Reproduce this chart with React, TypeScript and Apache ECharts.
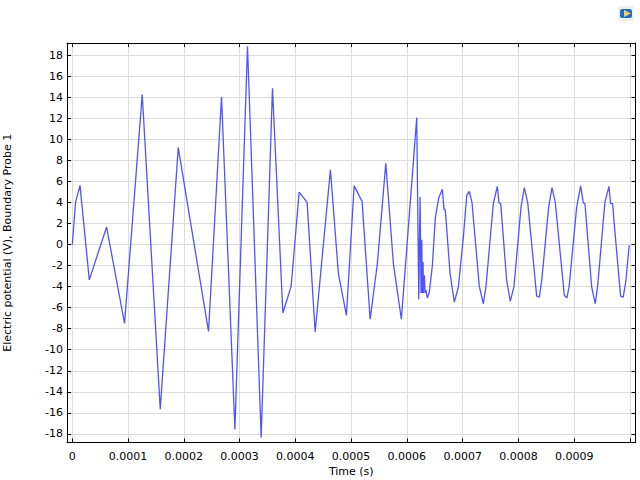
import React, { useEffect, useRef } from "react";
import * as echarts from "echarts";

// Time in units of 1e-4 s
const timeUnits = [
  0, 0.059, 0.138, 0.305, 0.615, 0.937, 1.254, 1.577, 1.9, 2.443, 2.676, 2.916, 3.142, 3.387, 3.59, 3.776,
  3.925, 4.068, 4.211, 4.355, 4.629, 4.772, 4.916, 5.054, 5.197, 5.341, 5.471, 5.622, 5.758, 5.901, 6.177,
  6.213, 6.237, 6.254, 6.267, 6.278, 6.29, 6.296, 6.314, 6.326, 6.34, 6.367, 6.403, 6.457, 6.511, 6.572,
  6.636, 6.667, 6.69, 6.774, 6.851, 6.923, 7.013, 7.074, 7.12, 7.168, 7.299, 7.371, 7.419, 7.55, 7.622,
  7.652, 7.683, 7.79, 7.855, 7.921, 8.047, 8.106, 8.167, 8.328, 8.375, 8.418, 8.543, 8.602, 8.661, 8.823,
  8.871, 8.912, 9.045, 9.116, 9.163, 9.194, 9.314, 9.378, 9.421, 9.552, 9.624, 9.654, 9.69, 9.713, 9.833,
  9.88, 9.928, 9.987,
];
const potential = [
  0, 4.06, 5.65, -3.35, 1.68, -7.5, 14.3, -15.65, 9.24, -8.26, 14.06, -17.6, 18.9, -18.35, 14.9, -6.5,
  -3.94, 5.0, 4.03, -8.3, 7.14, -2.76, -6.73, 5.6, 4.12, -7.1, -1.8, 7.74, -1.8, -7.1, 12.1,
  -5.2, 4.53, -4.6, 0.47, -4.6, -1.66, -4.6, -2.9, -4.6, -4.3, -5.08, -4.5, -2.0, 2.6, 4.47,
  5.27, 3.36, 3.27, -2.73, -5.47, -4.03, 0.72, 4.7, 5.08, 4.0, -3.97, -5.62, -3.97, 3.9, 5.55,
  4.0, 3.9, -3.42, -5.4, -3.97, 3.58, 5.43, 4.0, -4.9, -5.0, -3.42, 3.58, 5.43, 4.06, -4.81,
  -5.07, -3.87, 3.58, 5.59, 4.0, 3.9, -4.03, -5.62, -3.97, 4.06, 5.55, 3.9, 3.9, 2.32, -4.9,
  -5.0, -3.42, -0.05,
];
const xTicks = [0, 0.0001, 0.0002, 0.0003, 0.0004, 0.0005, 0.0006, 0.0007, 0.0008, 0.0009, 0.001];
const xLabelled = [0, 0.0001, 0.0002, 0.0003, 0.0004, 0.0005, 0.0006, 0.0007, 0.0008, 0.0009];
const yTicks = [-18, -16, -14, -12, -10, -8, -6, -4, -2, 0, 2, 4, 6, 8, 10, 12, 14, 16, 18];
const xTitle = "Time (s)";
const yTitle = "Electric potential (V), Boundary Probe 1";

const X_MIN = -0.0000095;
const X_MAX = 0.00101;
const Y_MIN = -18.83;
const Y_MAX = 19.2;
const FONT = "DejaVu Sans";

const line = { show: true, onZero: false, lineStyle: { color: "#000", width: 1 } };

export default function App() {
  const ref = useRef<HTMLDivElement>(null);
  useEffect(() => {
    const chart = echarts.init(ref.current!, undefined, { renderer: "svg", width: 640, height: 480 });
    const xBase = { type: "value", min: X_MIN, max: X_MAX, axisLine: line };
    const yBase = { type: "value", min: Y_MIN, max: Y_MAX, axisLine: line };
    chart.setOption({
      animation: false,
      backgroundColor: "#fff",
      grid: { left: 67, right: 4.5, top: 43, bottom: 37.5, containLabel: false, outerBoundsMode: "none" },
      xAxis: [
        {
          ...xBase,
          position: "bottom",
          name: xTitle,
          nameLocation: "middle",
          nameGap: 21,
          nameTextStyle: { color: "#000", fontFamily: FONT, fontSize: 11 },
          axisTick: { show: true, inside: true, length: 4, customValues: xTicks, lineStyle: { color: "#000" } },
          axisLabel: {
            show: true, margin: 8, color: "#000", fontFamily: FONT, fontSize: 11, customValues: xLabelled,
            hideOverlap: false, showMinLabel: true, showMaxLabel: true,
            formatter: (v: number) => (v === 0 ? "0" : v.toFixed(4)),
          },
          splitLine: { show: true, lineStyle: { color: "#dcdcdc", width: 1 } },
        },
        {
          ...xBase,
          position: "top",
          axisTick: { show: true, inside: true, length: 4, customValues: xTicks, lineStyle: { color: "#000" } },
          axisLabel: { show: false },
          splitLine: { show: false },
        },
      ],
      yAxis: [
        {
          ...yBase,
          position: "left",
          name: yTitle,
          nameLocation: "middle",
          nameGap: 54,
          nameTextStyle: { color: "#000", fontFamily: FONT, fontSize: 11 },
          axisTick: { show: true, inside: true, length: 4, customValues: yTicks, lineStyle: { color: "#000" } },
          axisLabel: {
            show: true, margin: 4, color: "#000", fontFamily: FONT, fontSize: 11, customValues: yTicks,
            showMinLabel: true, showMaxLabel: true,
          },
          splitLine: { show: true, lineStyle: { color: "#dcdcdc", width: 1 } },
        },
        {
          ...yBase,
          position: "right",
          axisTick: { show: true, inside: true, length: 4, customValues: yTicks, lineStyle: { color: "#000" } },
          axisLabel: { show: false },
          splitLine: { show: false },
        },
      ],
      series: [
        {
          type: "line",
          xAxisIndex: 0,
          yAxisIndex: 0,
          showSymbol: false,
          symbol: "none",
          clip: true,
          smooth: false,
          lineStyle: { color: "#5252ff", width: 1.3 },
          data: timeUnits.map((t, i) => [t * 1e-4, potential[i]]),
        },
      ],
      graphic: [
        { type: "rect", shape: { x: 618, y: 6, width: 16, height: 15, r: 3 }, style: { fill: "#eef0f2" } },
        { type: "rect", shape: { x: 620, y: 9, width: 12, height: 9, r: 2 }, style: { fill: "#1f6fc0" } },
        { type: "polygon", shape: { points: [[624, 10], [631, 13.5], [624, 17]] }, style: { fill: "#f0d060" } },
      ],
    });
    return () => chart.dispose();
  }, []);
  return <div ref={ref} style={{ position: "fixed", left: 0, top: 0, width: 640, height: 480 }} />;
}
